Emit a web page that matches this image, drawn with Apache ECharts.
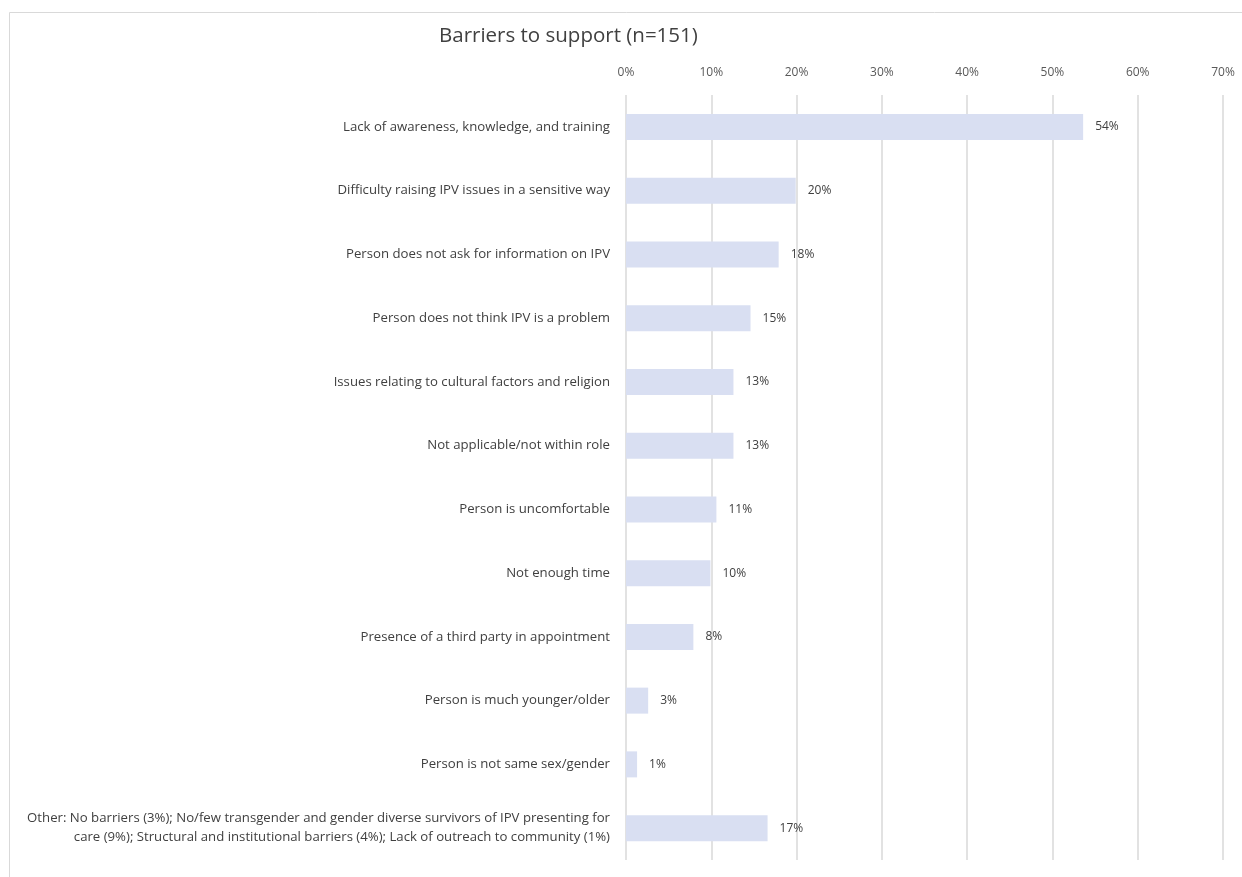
<!DOCTYPE html>
<html>
<head>
<meta charset="utf-8">
<script src="https://cdn.jsdelivr.net/npm/echarts@6/dist/echarts.min.js"></script>
<style>
html,body{margin:0;padding:0;background:#fff;}
#chart{width:1242px;height:877px;}
</style>
</head>
<body>
<div id="chart"></div>
<script>
const categories = [
  "Lack of awareness, knowledge, and training",
  "Difficulty raising IPV issues in a sensitive way",
  "Person does not ask for information on IPV",
  "Person does not think IPV is a problem",
  "Issues relating to cultural factors and religion",
  "Not applicable/not within role",
  "Person is uncomfortable",
  "Not enough time",
  "Presence of a third party in appointment",
  "Person is much younger/older",
  "Person is not same sex/gender",
  "Other: No barriers (3%); No/few transgender and gender diverse survivors of IPV presenting for\ncare (9%); Structural and institutional barriers (4%); Lack of outreach to community (1%)"
];
const values = [53.6, 19.9, 17.9, 14.6, 12.6, 12.6, 10.6, 9.9, 7.9, 2.6, 1.3, 16.6];
const tickLabels = ["0%", "10%", "20%", "30%", "40%", "50%", "60%", "70%"];
const titleText = "Barriers to support (n=151)";

const chart = echarts.init(document.getElementById('chart'), null, {renderer: 'canvas'});
const FONT = "'Open Sans', sans-serif";
chart.setOption({
  animation: false,
  backgroundColor: '#ffffff',
  title: {
    text: titleText,
    left: 434, top: 21,
    textStyle: {fontFamily: FONT, fontSize: 20.5, fontWeight: 'normal', color: '#404040'}
  },
  graphic: [{
    type: 'rect', left: 7, top: 10, silent: true,
    shape: {width: 1250, height: 865},
    style: {fill: 'none', stroke: '#d9d9d9', lineWidth: 1}
  }],
  grid: {left: 626, right: 19, top: 95, bottom: 17, containLabel: false, outerBoundsMode: 'none'},
  xAxis: {
    type: 'value', position: 'top', min: 0, max: 70, interval: 10,
    axisLine: {show: false}, axisTick: {show: false},
    axisLabel: {
      margin: 16, fontFamily: FONT, fontSize: 12, color: '#595959',
      formatter: v => tickLabels[Math.round(v / 10)]
    },
    splitLine: {show: true, lineStyle: {color: '#d9d9d9', width: 1.5}}
  },
  yAxis: {
    type: 'category', inverse: true, data: categories,
    axisLine: {show: false}, axisTick: {show: false},
    axisLabel: {margin: 16, fontFamily: FONT, fontSize: 13.2, color: '#404040', lineHeight: 19, align: 'right'}
  },
  series: [{
    type: 'bar', data: values, barWidth: 26,
    itemStyle: {color: '#d9dff2'},
    label: {
      show: true, position: 'right', distance: 12,
      fontFamily: FONT, fontSize: 12, color: '#404040',
      formatter: p => Math.round(p.value) + '%'
    }
  }]
});
</script>
</body>
</html>
